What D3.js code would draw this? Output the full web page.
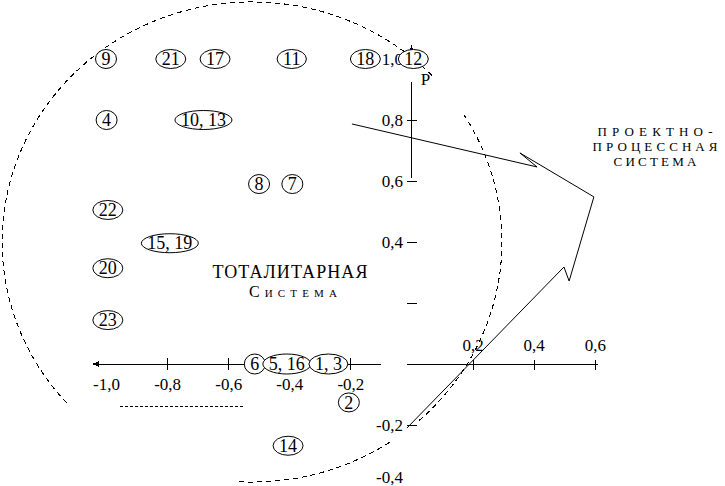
<!DOCTYPE html>
<html>
<head>
<meta charset="utf-8">
<script src="https://cdn.jsdelivr.net/npm/d3@7"></script>
<style>
    body { margin: 0; background: #fff; }
    svg { display: block; font-family: "Liberation Serif", "Times New Roman", serif; }
</style>
</head>
<body>
<svg id="chart" width="725" height="486"></svg>
<script>
// Numbered points (labels inside ellipses) and their coordinates
const pointLabels = ["9", "21", "17", "11", "18", "12", "4", "10, 13", "8", "7", "22", "15, 19", "20", "23", "6", "5, 16", "1, 3", "2", "14"];
const pointX = [-1.0, -0.788, -0.643, -0.392, -0.151, 0.006, -0.998, -0.681, -0.499, -0.39, -0.994, -0.791, -0.994, -0.994, -0.513, -0.408, -0.272, -0.205, -0.404];
const pointY = [1.0, 1.0, 1.0, 1.0, 1.0, 1.0, 0.8, 0.8, 0.59, 0.59, 0.505, 0.396, 0.314, 0.144, 0, 0, 0, -0.126, -0.268];

// Axis ticks
const xTicksNeg = [-1.0, -0.8, -0.6, -0.4, -0.2];
const xTickLabelsNeg = ["-1,0", "-0,8", "-0,6", "-0,4", "-0,2"];
const xTicksPos = [0.2, 0.4, 0.6];
const xTickLabelsPos = ["0,2", "0,4", "0,6"];
const yTicks = [1.0, 0.8, 0.6, 0.4, 0.2, -0.2, -0.4];
const yTickLabels = ["1,0", "0,8", "0,6", "0,4", "", "-0,2", "-0,4"];

// Visible pieces of the axis lines (the scan has gaps)
const xAxisSegments = [[-1.04, -0.1], [-0.015, 0.61]];
const yAxisSegments = [[0.61, 0.925]];

// Arrows
const arrowLine = [[-0.195, 0.787], [0.411, 0.646]];
const bentLine = [[-0.015, -0.21], [0.499, 0.318], [0.516, 0.272], [0.597, 0.548], [0.355, 0.692], [0.411, 0.646]];
const dashedSegment = [[-0.954, -0.138], [-0.552, -0.138]];

// Dashed boundary of the "totalitarian system" zone
const zoneCenter = [-0.522, 0.40];
const zoneRadius = [0.818, 0.787];
const zoneArcs = [[44, 223], [-48, 32], [-93, -56]]; // visible angle ranges, degrees

const svg = d3.select("#chart")
    .attr("shape-rendering", "crispEdges");

const x = d3.scaleLinear().domain([-1, 0.6]).range([106, 594.8]);
const y = d3.scaleLinear().domain([-0.4, 1.0]).range([486, 59]);

// --- zone boundary ---
const cx = x(zoneCenter[0]), cy = y(zoneCenter[1]);
const rx = x(zoneCenter[0] + zoneRadius[0]) - cx;
const ry = cy - y(zoneCenter[1] + zoneRadius[1]);

function arcPath(a0, a1) {
    const r0 = a0 * Math.PI / 180, r1 = a1 * Math.PI / 180;
    const x0 = cx + rx * Math.cos(r0), y0 = cy - ry * Math.sin(r0);
    const x1 = cx + rx * Math.cos(r1), y1 = cy - ry * Math.sin(r1);
    const large = (a1 - a0) > 180 ? 1 : 0;
    return `M${x0},${y0} A${rx},${ry} 0 ${large} 0 ${x1},${y1}`;
}

svg.selectAll("path.zone")
    .data(zoneArcs)
    .enter().append("path")
    .attr("class", "zone")
    .attr("d", d => arcPath(d[0], d[1]))
    .attr("fill", "none")
    .attr("stroke", "#000")
    .attr("stroke-width", 1)
    .attr("stroke-dasharray", "5,4");

// --- axes ---
const xAxisG = svg.append("g").attr("transform", `translate(0, ${y(0)})`);

xAxisG.selectAll("line.seg")
    .data(xAxisSegments)
    .enter().append("line")
    .attr("x1", d => x(d[0]))
    .attr("x2", d => x(d[1]))
    .attr("stroke", "#000");

// arrow on the left end of the x axis
xAxisG.append("path")
    .attr("d", `M${x(-1.045)},0 L${x(-1.045) + 7},-3 L${x(-1.045) + 7},3 Z`)
    .attr("fill", "#000");

const negAxis = xAxisG.append("g")
    .style("color", "#000")
    .call(d3.axisBottom(x)
        .tickValues(xTicksNeg)
        .tickFormat((d, i) => xTickLabelsNeg[i])
        .tickSize(6)
        .tickPadding(7.5));
negAxis.select(".domain").remove();
negAxis.selectAll(".tick line").attr("y1", -6);
negAxis.selectAll(".tick").filter(d => d === -1).select("line").remove();

const posAxis = xAxisG.append("g")
    .style("color", "#000")
    .call(d3.axisTop(x)
        .tickValues(xTicksPos)
        .tickFormat((d, i) => xTickLabelsPos[i])
        .tickSize(4)
        .tickPadding(9));
posAxis.select(".domain").remove();
posAxis.selectAll(".tick line").attr("y1", 6);

[negAxis, posAxis].forEach(g => g.selectAll("text")
    .attr("font-family", "Liberation Serif, serif")
    .attr("font-size", 17));

const yAxisG = svg.append("g").attr("transform", `translate(${x(0)}, 0)`);

yAxisG.selectAll("line.seg")
    .data(yAxisSegments)
    .enter().append("line")
    .attr("y1", d => y(d[0]))
    .attr("y2", d => y(d[1]))
    .attr("stroke", "#000");

// arrow on the top of the y axis
yAxisG.append("path")
    .attr("d", `M0,${y(1.045)} L-3,${y(1.045) + 7} L3,${y(1.045) + 7} Z`)
    .attr("fill", "#000");

const leftAxis = yAxisG.append("g")
    .style("color", "#000")
    .call(d3.axisLeft(y)
        .tickValues(yTicks)
        .tickFormat((d, i) => yTickLabels[i])
        .tickSize(5)
        .tickPadding(3.5));
leftAxis.select(".domain").remove();
leftAxis.selectAll(".tick line").attr("x1", 5);
leftAxis.selectAll("text")
    .attr("font-family", "Liberation Serif, serif")
    .attr("font-size", 17);
// lowest label sits on the picture's bottom edge, lift it so it stays readable
leftAxis.selectAll(".tick").filter(d => d === -0.4).select("text").attr("dy", "-0.2em");

// axis name
svg.append("text")
    .attr("x", x(0.03))
    .attr("y", y(0.915))
    .attr("font-size", 17)
    .text("Р");

// --- arrows ---
const line = d3.line().x(d => x(d[0])).y(d => y(d[1]));

svg.append("path")
    .attr("d", line(arrowLine))
    .attr("fill", "none")
    .attr("stroke", "#000")
    .attr("shape-rendering", "auto");

svg.append("path")
    .attr("d", line(bentLine))
    .attr("fill", "none")
    .attr("stroke", "#000")
    .attr("shape-rendering", "auto");

svg.append("path")
    .attr("d", line(dashedSegment))
    .attr("fill", "none")
    .attr("stroke", "#000")
    .attr("stroke-dasharray", "3,2");

// --- zone names ---
svg.append("text")
    .attr("x", x(-0.398)).attr("y", y(0.282))
    .attr("text-anchor", "middle")
    .attr("font-size", 18)
    .attr("textLength", 155).attr("lengthAdjust", "spacing")
    .text("ТОТАЛИТАРНАЯ");
svg.append("text")
    .attr("x", x(-0.388)).attr("y", y(0.220))
    .attr("text-anchor", "middle")
    .attr("font-size", 16)
    .attr("font-variant", "small-caps")
    .attr("textLength", 88).attr("lengthAdjust", "spacing")
    .text("Система");

[["ПРОЕКТНО-", 0.747, 115], ["ПРОЦЕССНАЯ", 0.699, 125], ["СИСТЕМА", 0.650, 83]].forEach(r => {
    svg.append("text")
        .attr("x", x(0.797)).attr("y", y(r[1]))
        .attr("text-anchor", "middle")
        .attr("font-size", 13)
        .attr("textLength", r[2]).attr("lengthAdjust", "spacing")
        .text(r[0]);
});

// --- numbered points ---
const points = pointLabels.map((l, i) => ({ label: l, x: pointX[i], y: pointY[i] }));

const pts = svg.selectAll("g.pt")
    .data(points)
    .enter().append("g")
    .attr("class", "pt")
    .attr("transform", d => `translate(${x(d.x)}, ${y(d.y)})`);

const ell = pts.append("ellipse")
    .attr("fill", "#fff")
    .attr("stroke", "#000")
    .attr("stroke-width", 1)
    .attr("shape-rendering", "auto");

const lbl = pts.append("text")
    .attr("text-anchor", "middle")
    .attr("dy", "0.34em")
    .attr("font-size", 18)
    .text(d => d.label);

lbl.each(function (d) { d.w = this.getComputedTextLength(); });
ell.attr("rx", d => d.w / 2 + 6)
    .attr("ry", d => d.y === 0 ? 10 : 9.5);
</script>
</body>
</html>
